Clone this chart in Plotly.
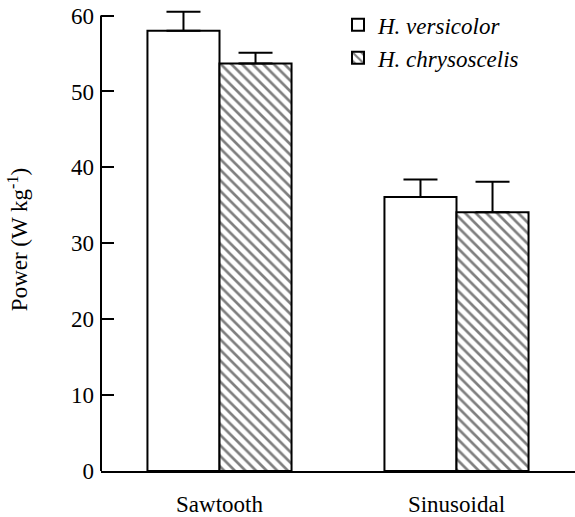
import plotly.graph_objects as go

# Mean mechanical power output for two waveforms, with SE (upper bars only)
waveforms = ["Sawtooth", "Sinusoidal"]
species = ["H. versicolor", "H. chrysoscelis"]
versicolor_power = [58.0, 36.1]
versicolor_se = [2.5, 2.3]
chrysoscelis_power = [53.7, 34.1]
chrysoscelis_se = [1.4, 4.0]
y_ticks = [0, 10, 20, 30, 40, 50, 60]
y_axis_top = 60

FONT = "Liberation Serif"
SIZE = 23

fig = go.Figure()
fig.add_trace(go.Bar(
    name=species[0], x=waveforms, y=versicolor_power,
    marker=dict(color="white", line=dict(color="black", width=2)),
    error_y=dict(type="data", array=versicolor_se, arrayminus=[0, 0],
                 symmetric=False, color="black", thickness=2, width=17),
))
fig.add_trace(go.Bar(
    name=species[1], x=waveforms, y=chrysoscelis_power,
    marker=dict(color="white", line=dict(color="black", width=2),
                pattern=dict(shape="\\", size=7.5, solidity=0.36,
                             fgcolor="black", bgcolor="white", fillmode="overlay")),
    error_y=dict(type="data", array=chrysoscelis_se, arrayminus=[0, 0],
                 symmetric=False, color="black", thickness=2, width=17),
))

# y-axis spine drawn only up to the last tick, so the error caps above it stay visible
fig.add_shape(type="line", xref="paper", yref="y", x0=0, x1=0, y0=0, y1=y_axis_top,
              line=dict(color="black", width=2), layer="above")

fig.update_layout(
    width=575, height=517,
    margin=dict(l=101, r=0, t=8, b=44),
    paper_bgcolor="white", plot_bgcolor="white",
    font=dict(family=FONT, size=SIZE, color="black"),
    barmode="group", bargap=0.392, bargroupgap=0,
    showlegend=True,
    legend=dict(x=0.5, y=1.01, xanchor="left", yanchor="top",
                font=dict(family=FONT, size=SIZE, style="italic", color="black"),
                bgcolor="rgba(0,0,0,0)", tracegroupgap=0, itemwidth=30),
)
fig.update_xaxes(
    range=[-0.5, 1.5], showline=True, linecolor="black", linewidth=2,
    ticks="", showgrid=False, zeroline=False, ticklabelstandoff=11,
    tickfont=dict(family=FONT, size=SIZE, color="black"),
)
fig.update_yaxes(
    range=[0, 61], tickvals=y_ticks, showline=False,
    ticks="inside", ticklen=13, tickwidth=2, tickcolor="black",
    showgrid=False, zeroline=False, ticklabelstandoff=6,
    tickfont=dict(family=FONT, size=SIZE, color="black"),
    title=dict(text="Power (W kg<sup>-1</sup>)", standoff=36,
               font=dict(family=FONT, size=SIZE, color="black")),
)

fig.write_html("out.html")
